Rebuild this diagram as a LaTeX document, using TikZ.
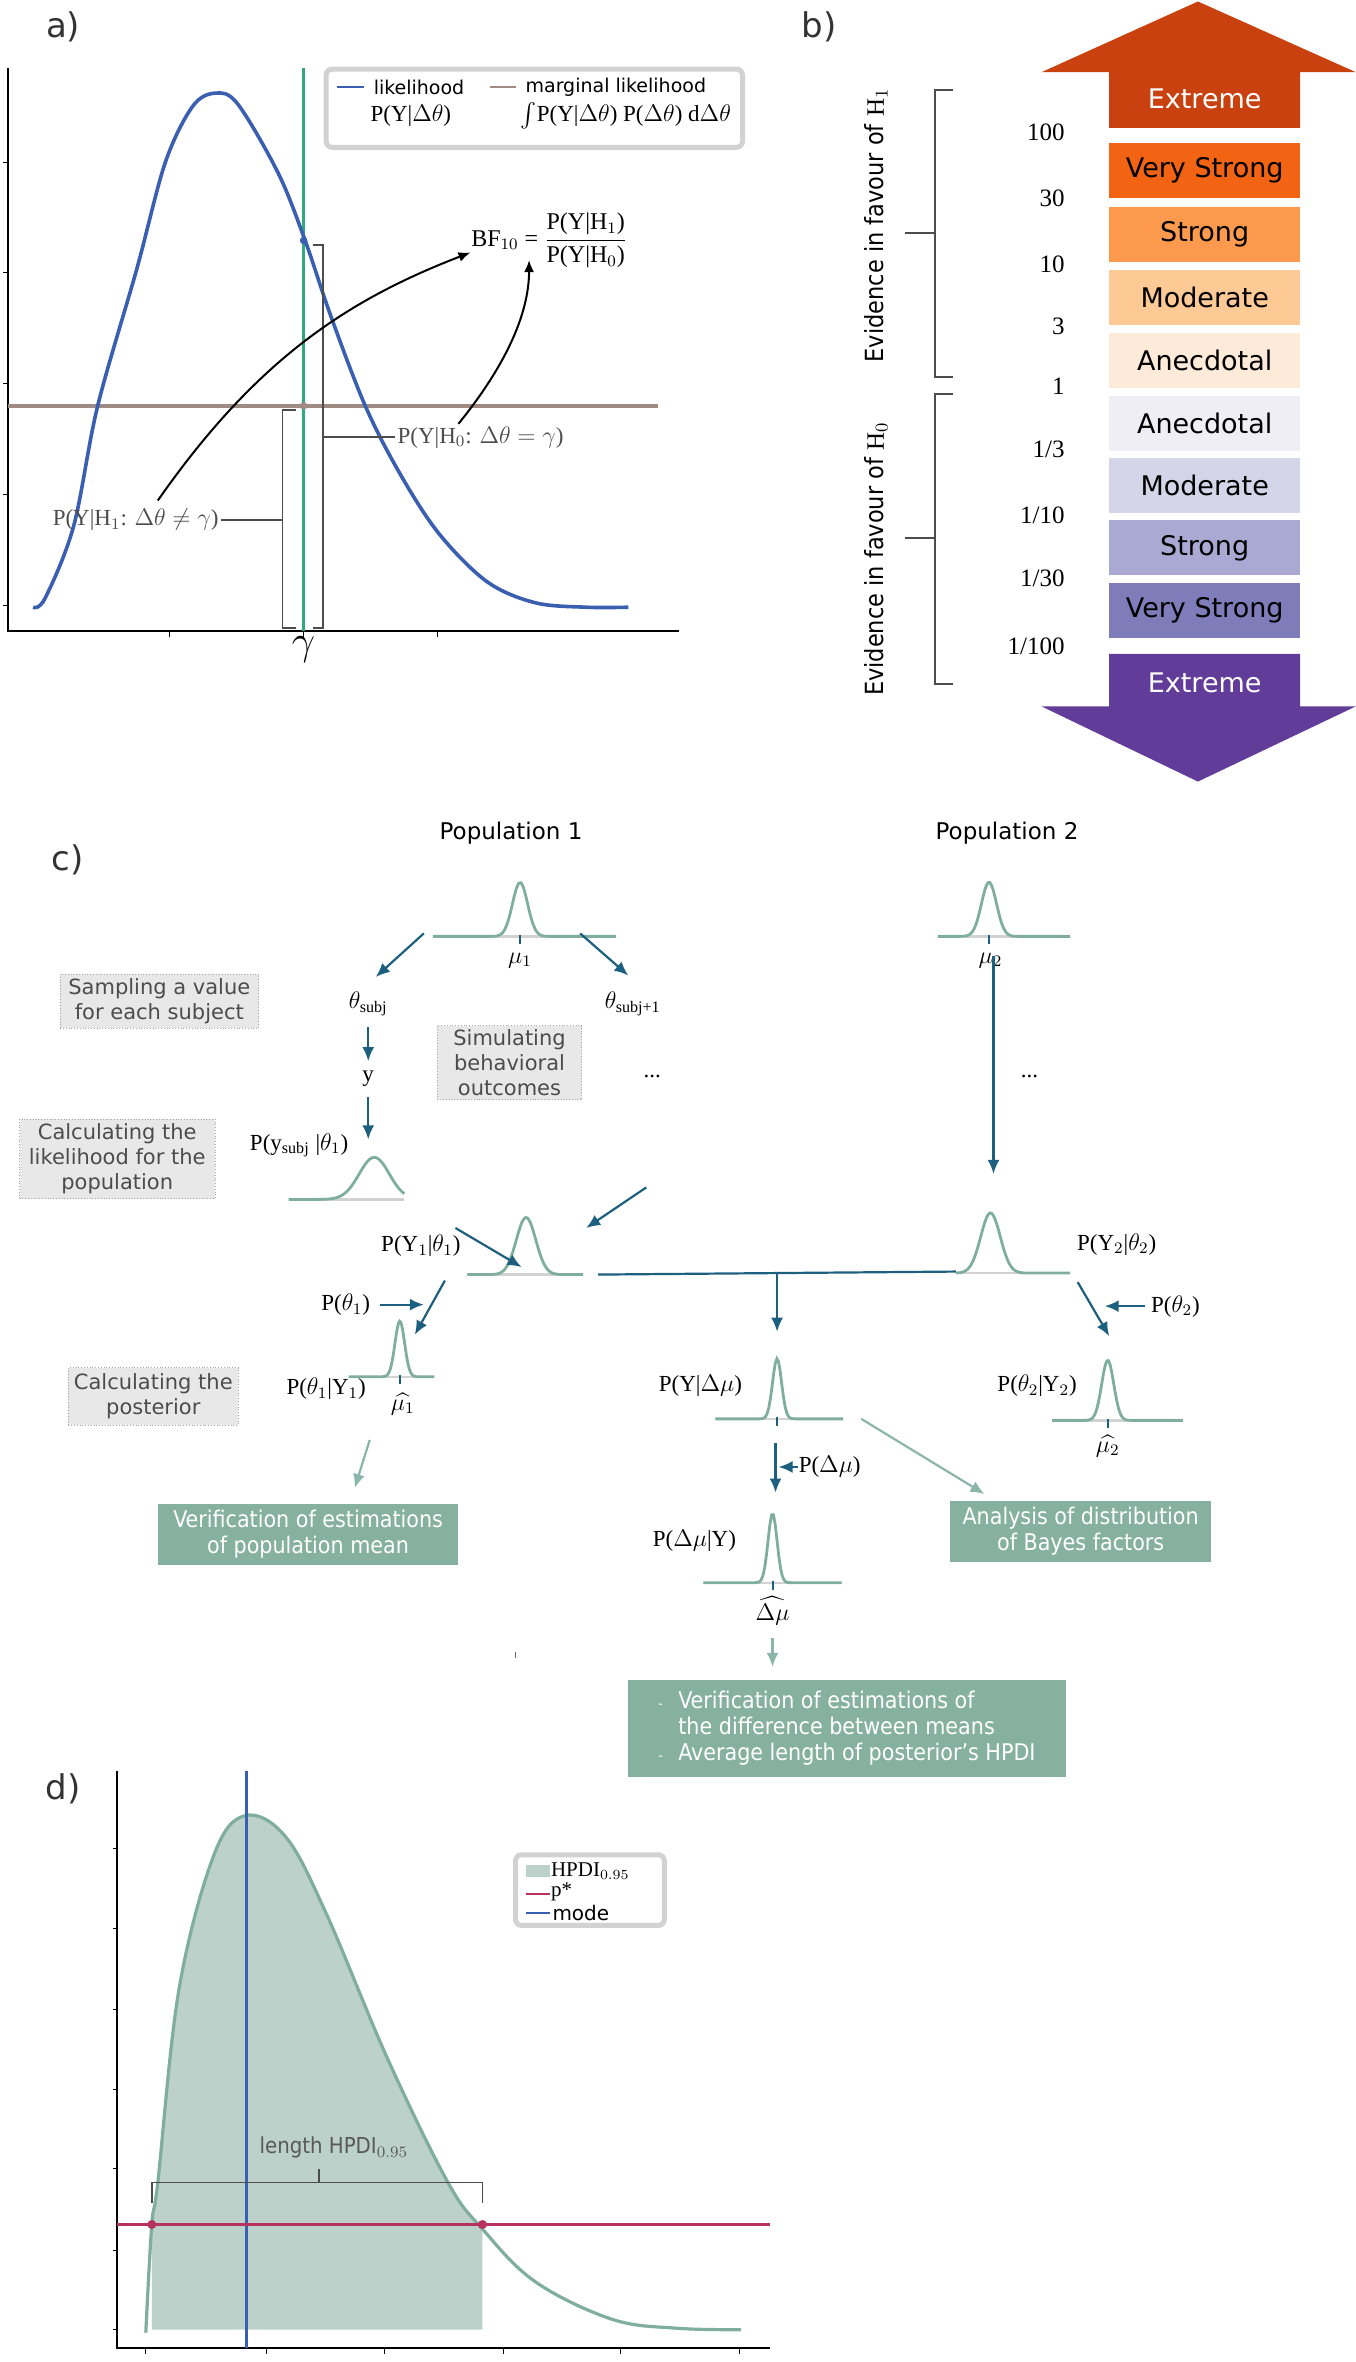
\documentclass[tikz,border=0pt]{standalone}
\usepackage{amsmath}
\usepackage{fontspec}
\setmainfont{Liberation Serif}
\setsansfont{DejaVu Sans}
\newfontfamily\cond{DejaVu Sans Condensed}
\usetikzlibrary{arrows.meta}
\definecolor{dblue}{HTML}{1D5F7F}
\definecolor{dcol}{HTML}{7FAE9E}
\definecolor{gbox}{HTML}{86B0A0}
\definecolor{lgreen}{HTML}{8AB5A8}
\definecolor{likeb}{HTML}{3A5FB0}
\definecolor{margc}{HTML}{A08A84}
\definecolor{vgreen}{HTML}{2EAA7E}
\definecolor{pred}{HTML}{B8325F}
\definecolor{hfill}{HTML}{BCD1C9}
\definecolor{cA}{HTML}{C8410E}
\definecolor{cB}{HTML}{F26313}
\definecolor{cC}{HTML}{FD9A4E}
\definecolor{cD}{HTML}{FDC995}
\definecolor{cE}{HTML}{FEEAD9}
\definecolor{cF}{HTML}{EFEEF5}
\definecolor{cG}{HTML}{D5D5EA}
\definecolor{cH}{HTML}{AAA9D3}
\definecolor{cI}{HTML}{7F7CBA}
\definecolor{cJ}{HTML}{613C99}
\newcommand\mydist[6]{%
  \draw[gray!35,line width=1.2pt] (#1,#4)--(#2,#4);
  \draw[dcol,line width=1.4pt] plot[domain=#1:#2,samples=80] (\x,{#4-#5*exp(-min(((\x-#3)/#6)^2/2,30))});}
\begin{document}
\begin{tikzpicture}[x=0.7517pt,y=-0.7517pt,
  lab/.style={font=\fontsize{11.5}{13}\selectfont,inner sep=1pt},
  arr/.style={dblue,line width=1.1pt,-{Latex[length=7pt,width=6pt]}},
  larr/.style={lgreen,line width=1.1pt,-{Latex[length=7pt,width=6pt]}},
  gbx/.style={draw=gray!70,densely dotted,fill=gray!18,text=black!70,font=\sffamily\fontsize{10.5}{12.5}\selectfont,align=center,inner sep=2pt},
  grn/.style={fill=gbox,text=white,font=\cond\fontsize{11.5}{13}\selectfont,align=center},
  bar/.style={minimum width=95.5pt,minimum height=27.5pt,inner sep=0pt,font=\sffamily\fontsize{13.5}{15}\selectfont},
  num/.style={anchor=east,font=\fontsize{12.5}{14}\selectfont},
  brk/.style={gray!60!black,line width=0.9pt},
  pl/.style={font=\sffamily\fontsize{17}{20}\selectfont,text=black!80}]
\useasboundingbox (0,0) rectangle (902,1571.5);
% ================= a)
\node[pl] (la) at (42,18) {a)};
\draw[line width=1pt] (5,45)--(5,420)--(452,420);
\foreach \yy in {108,181,255,329,403} \draw (5,\yy)--(2,\yy);
\foreach \xx in {113,202,291} \draw (\xx,420)--(\xx,424);
\draw[vgreen,line width=1.6pt] (202,45)--(202,420);
\draw[margc,line width=2pt] (5,270)--(438,270);
\draw[likeb,line width=1.8pt] plot[smooth,tension=0.55] coordinates {(22,404)(30,398)(49,350)(65,270)(91,179)(110,108)(128,71)(143,62)(158,69)(185,115)(203,160)(220,210)(243,270)(266,315)(292,355)(324,387)(356,401)(390,404)(418,404)};
\fill[likeb] (202,160) circle (2.5);
\fill[margc] (202,270) circle (2.5);
\draw[brk] (208,163)--(215,163)--(215,418)--(208,418);
\draw[brk] (215,291)--(263,291);
\node[lab,anchor=west,text=black!70] (h0) at (263,291) {P(Y|H$_0$: $\Delta\theta = \gamma$)};
\draw[brk] (197,273)--(188,273)--(188,418)--(197,418);
\draw[brk] (188,346)--(147,346);
\node[lab,anchor=east,text=black!70] (h1) at (147,346) {P(Y|H$_1$: $\Delta\theta \neq \gamma$)};
\node[lab,anchor=west,font=\fontsize{12}{14}\selectfont] (bf) at (312,160) {BF$_{10}$ = $\dfrac{\text{P(Y|H$_1$)}}{\text{P(Y|H$_0$)}}$};
\coordinate (bfa) at (313,168);
\coordinate (bfb) at (352,173);
\draw[line width=1pt,-{Latex[length=6pt,width=5pt]}] (105,333) .. controls (170,240) and (230,200) .. (bfa);
\draw[line width=1pt,-{Latex[length=6pt,width=5pt]}] (305,282) .. controls (335,245) and (352,210) .. (bfb);
\draw[gray!35,line width=2.5pt,rounded corners=3pt,fill=white] (217,46) rectangle (494,98);
\draw[likeb,line width=1pt] (224,58)--(242,58);
\node[anchor=west,font=\sffamily\fontsize{9.5}{11}\selectfont] (l1) at (244,58) {likelihood};
\node[lab,anchor=west] (l1b) at (245,77) {P(Y|$\Delta\theta$)};
\draw[margc,line width=1pt] (326,58)--(343,58);
\node[anchor=west,font=\sffamily\fontsize{9.5}{11}\selectfont] (l2) at (345,58) {marginal likelihood};
\node[lab,anchor=west] (l2b) at (345,77) {$\int$P(Y|$\Delta\theta$) P($\Delta\theta$) d$\Delta\theta$};
\node[font=\fontsize{22}{24}\selectfont] (gam) at (202,432) {$\gamma$};
% ================= b)
\node[pl] (lb) at (545,18) {b)};
\fill[cA] (693,48)--(797,1)--(902,48)--(865,48)--(865,85)--(738,85)--(738,48)--cycle;
\node[bar,text=white] (ex1) at (801.5,66) {Extreme};
\node[bar,fill=cB] (b1) at (801.5,113.5) {Very Strong};
\node[bar,fill=cC] (b2) at (801.5,156) {Strong};
\node[bar,fill=cD] (b3) at (801.5,198) {Moderate};
\node[bar,fill=cE] (b4) at (801.5,240) {Anecdotal};
\node[bar,fill=cF] (b5) at (801.5,282) {Anecdotal};
\node[bar,fill=cG] (b6) at (801.5,323) {Moderate};
\node[bar,fill=cH] (b7) at (801.5,364.5) {Strong};
\node[bar,fill=cI] (b8) at (801.5,406) {Very Strong};
\fill[cJ] (738,435)--(865,435)--(865,470)--(902,470)--(797,520)--(693,470)--(738,470)--cycle;
\node[bar,text=white] (ex2) at (801.5,454) {Extreme};
\foreach \t/\yy in {100/88,30/132,10/176,3/217,1/257,1\slash 3/299,1\slash 10/343,1\slash 30/385,1\slash 100/430}
  \node[num] at (713,\yy) {\t};
\draw[brk] (634,60)--(622,60)--(622,251)--(634,251); \draw[brk] (602,155)--(622,155);
\draw[brk] (634,262)--(622,262)--(622,455)--(634,455); \draw[brk] (602,358)--(622,358);
\node[rotate=90,font=\cond\fontsize{12.5}{14}\selectfont] (e1) at (583,150) {Evidence in favour of {\rmfamily H$_1$}};
\node[rotate=90,font=\cond\fontsize{12.5}{14}\selectfont] (e0) at (583,372) {Evidence in favour of {\rmfamily H$_0$}};
% ================= c)
\node[pl] (lc) at (45,572) {c)};
\node[font=\sffamily\fontsize{11.5}{13}\selectfont] (p1) at (340,554) {Population 1};
\node[font=\sffamily\fontsize{11.5}{13}\selectfont] (p2) at (670,554) {Population 2};
\mydist{288}{410}{346}{623}{36}{5}
\mydist{624}{712}{658}{623}{36}{5}
\mydist{192}{269}{249}{798}{28}{10}
\mydist{311}{388}{350}{848}{38}{6.5}
\mydist{636}{712}{659}{847}{40}{6.5}
\mydist{232}{289}{266}{916}{37}{3.2}
\mydist{476}{561}{517}{944}{40}{3}
\mydist{700}{787}{737}{945}{40}{4}
\mydist{468}{560}{514}{1053}{46}{3}
\foreach \xx/\yy in {346/623,658/623,266/916,517/944,737/945,514/1053} \draw[dblue,line width=1pt] (\xx,\yy-1)--(\xx,\yy+5);
\node[lab] (mu1) at (346,639) {$\mu_1$};
\node[lab] (mu2) at (659,639) {$\mu_2$};
\node[lab] (mh1) at (268,934) {$\widehat{\mu_1}$};
\node[lab] (mh2) at (737,962) {$\widehat{\mu_2}$};
\node[lab] (dmh) at (514,1072) {$\widehat{\Delta\mu}$};
\node[lab] (ts) at (245,668) {$\theta_{\text{subj}}$};
\node[lab] (ts1) at (421,668) {$\theta_{\text{subj+1}}$};
\node[lab] (yy) at (245,718) {y};
\node[lab] (d1) at (434,716) {...};
\node[lab] (d2) at (685,716) {...};
\node[lab] (pys) at (199,762) {P(y$_\text{subj}$ |$\theta_1$)};
\node[lab] (py1) at (280,829) {P(Y$_1$|$\theta_1$)};
\node[lab] (pt1) at (230,868) {P($\theta_1$)};
\node[lab] (py2) at (743,828) {P(Y$_2$|$\theta_2$)};
\node[lab] (pt2) at (782,869) {P($\theta_2$)};
\node[lab] (po1) at (217,924) {P($\theta_1$|Y$_1$)};
\node[lab] (pyd) at (466,922) {P(Y|$\Delta\mu$)};
\node[lab] (po2) at (690,922) {P($\theta_2$|Y$_2$)};
\node[lab] (pdm) at (552,976) {P($\Delta\mu$)};
\node[lab] (pdy) at (462,1025) {P($\Delta\mu$|Y)};
\draw[arr] (282,621)--(250,650);
\draw[arr] (386,621)--(418,649);
\draw[arr] (245,683)--(245,706);
\draw[arr] (245,730)--(245,758);
\draw[arr] (303,817)--(347,843);
\draw[arr] (430,790)--(390,817);
\draw[arr] (661,636)--(661,781);
\draw[dblue,line width=1.1pt] (398,848)--(636,846);
\draw[arr] (517,847)--(517,886);
\draw[arr] (296,852)--(276,888);
\draw[arr] (253,868)--(282,868);
\draw[arr] (717,853)--(738,889);
\draw[arr] (762,869)--(735,869);
\draw[arr] (516,960)--(516,993);
\draw[arr] (531,976)--(518,976);
\draw[larr] (246,958)--(236,990);
\draw[larr] (573,944)--(655,994);
\draw[larr] (514,1090)--(514,1109);
\node[gbx,minimum width=99.2pt,minimum height=27pt] (g1) at (106,666) {Sampling a value\\for each subject};
\node[gbx,minimum width=97.7pt,minimum height=39.8pt] (g2) at (78,771) {Calculating the\\likelihood for the\\population};
\node[gbx,minimum width=72.2pt,minimum height=36.8pt] (g3) at (339,707) {Simulating\\behavioral\\outcomes};
\node[gbx,minimum width=85pt,minimum height=28.6pt] (g4) at (102,929) {Calculating the\\posterior};
\node[grn,minimum width=150.3pt,minimum height=29.3pt] (v1) at (205,1021) {Verification of estimations\\of population mean};
\node[grn,minimum width=130.8pt,minimum height=29.3pt] (v2) at (719,1019) {Analysis of distribution\\of Bayes factors};
\node[grn,minimum width=218.7pt,minimum height=48.1pt,align=left] (v3) at (563.5,1150) {\makebox[10pt][l]{\scriptsize -}Verification of estimations of\\\hspace*{10pt}the difference between means\\\makebox[10pt][l]{\scriptsize -}Average length of posterior’s HPDI};
\draw[black!60,line width=0.8pt] (343,1099)--(343,1103);
% ================= d)
\node[pl] (ld) at (42,1190) {d)};
\fill[hfill] (101,1550) -- plot[smooth,tension=0.6] coordinates {(101,1480)(105,1452)(119,1324)(142,1235)(163,1208)(190,1222)(217,1273)(258,1370)(298,1452)(321,1483)} -- (321,1550) -- cycle;
\draw[dcol,line width=1.6pt] plot[smooth,tension=0.6] coordinates {(97,1552)(101,1480)(105,1452)(119,1324)(142,1235)(163,1208)(190,1222)(217,1273)(258,1370)(298,1452)(321,1483)(356,1518)(407,1543)(450,1549)(493,1550)};
\draw[line width=1pt] (78,1178)--(78,1562)--(512,1562);
\foreach \yy in {1230,1283,1337,1390,1443,1497,1550} \draw (78,\yy)--(75,\yy);
\foreach \xx in {97,177,256,335,413,492} \draw (\xx,1562)--(\xx,1566);
\draw[likeb,line width=1.6pt] (164,1178)--(164,1562);
\draw[pred,line width=1.6pt] (78,1480)--(512,1480);
\fill[pred] (101,1480) circle (3); \fill[pred] (321,1480) circle (3);
\draw[brk] (101,1466)--(101,1452)--(321,1452)--(321,1466);
\draw[brk] (212,1452)--(212,1443);
\node[anchor=west,text=black!65,font=\cond\fontsize{11}{12}\selectfont] (lh) at (168,1429) {length HPDI$_{0.95}$};
\draw[gray!35,line width=2.5pt,rounded corners=3pt,fill=white] (343,1234) rectangle (442,1281);
\fill[hfill] (350,1241) rectangle (366,1249);
\node[anchor=west,lab,font=\fontsize{10.5}{12}\selectfont] (lg1) at (365,1245) {HPDI$_{0.95}$};
\draw[pred,line width=1pt] (350,1260)--(366,1260);
\node[anchor=west,lab,font=\fontsize{10.5}{12}\selectfont] (lg2) at (365,1259) {p*};
\draw[likeb,line width=1pt] (350,1273)--(366,1273);
\node[anchor=west,font=\sffamily\fontsize{10}{12}\selectfont,inner sep=1pt] (lg3) at (366,1273) {mode};
\end{tikzpicture}
\end{document}
